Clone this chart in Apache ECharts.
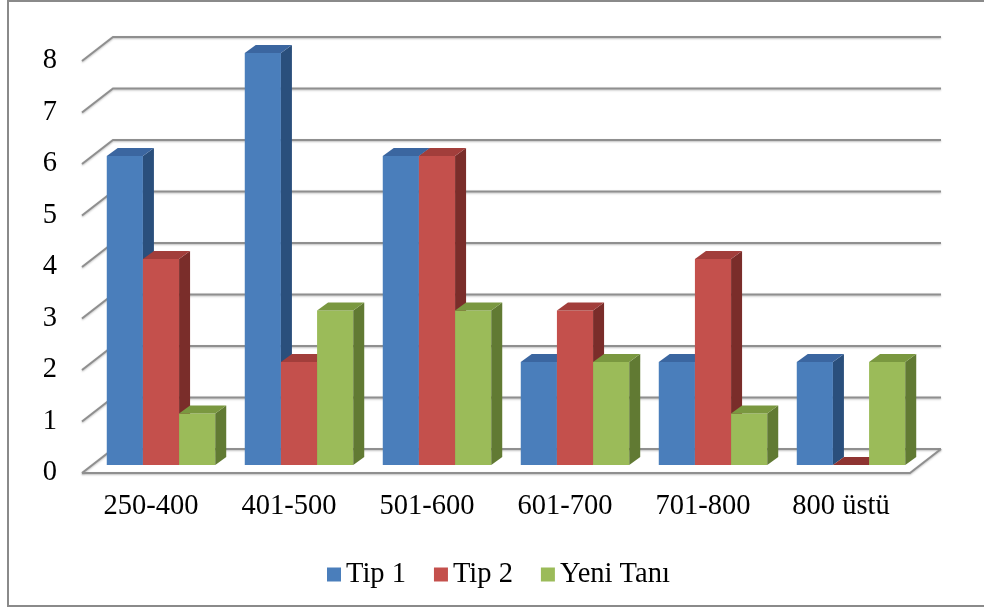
<!DOCTYPE html>
<html>
<head>
<meta charset="utf-8">
<style>
  html, body { margin: 0; padding: 0; background: #ffffff; }
  #chart { width: 984px; height: 610px; }
</style>
<script src="https://cdn.jsdelivr.net/npm/echarts@6/dist/echarts.min.js"></script>
</head>
<body>
<div id="chart"></div>
<script>
// Glucose ranges and counts per diabetes type
const categories = ['250-400', '401-500', '501-600', '601-700', '701-800', '800 üstü'];
const tip1 = [6, 8, 6, 2, 2, 2];
const tip2 = [4, 2, 6, 3, 4, 0];
const yeniTani = [1, 3, 3, 2, 1, 2];
const seriesNames = ['Tip 1', 'Tip 2', 'Yeni Tanı'];
const yTicks = [0, 1, 2, 3, 4, 5, 6, 7, 8];

// Face colours for each series: front, top, side
const palette = [
  { front: '#4a7ebb', top: '#3b66a0', side: '#2a4f7c' },
  { front: '#c4504c', top: '#a23e3b', side: '#7a2d2a' },
  { front: '#9bbb59', top: '#7a9840', side: '#617a33' }
];

// Oblique projection of depth: full floor depth and single-bar depth
const DEPTH_X = 31, DEPTH_Y = -24;
const BAR_OFF_X = 10, BAR_OFF_Y = -8;
const BAR_DX = 11, BAR_DY = -8;
const BAR_FRACTION = 0.262;

const FONT = '"Liberation Serif", "Times New Roman", serif';
const FONT_SIZE = 28.5;

const chart = echarts.init(document.getElementById('chart'));

function wallRenderer(params, api) {
  const v = api.value(1);
  const cs = params.coordSys;
  const y = api.coord([0, v])[1];
  const x0 = cs.x, x1 = cs.x + cs.width;
  const lineStyle = {
    stroke: '#8f8f8f', lineWidth: 2, fill: null,
    shadowColor: 'rgba(0,0,0,0.25)', shadowBlur: 2, shadowOffsetY: 1
  };
  const children = [{
    type: 'polyline',
    shape: { points: [[x0, y], [x0 + DEPTH_X, y + DEPTH_Y], [x1 + DEPTH_X, y + DEPTH_Y]] },
    style: lineStyle
  }];
  if (v === 0) {
    children.push({
      type: 'polyline',
      shape: { points: [[x0, y], [x1, y], [x1 + DEPTH_X, y + DEPTH_Y]] },
      style: lineStyle
    });
  }
  return { type: 'group', children: children };
}

function barRenderer(params, api) {
  const si = params.seriesIndex - 1;
  const cat = api.value(0);
  const val = api.value(1);
  const top = api.coord([cat, val]);
  const base = api.coord([cat, 0]);
  const catW = api.size([1, 0])[0];
  const w = catW * BAR_FRACTION;
  const x = top[0] - 1.5 * w + si * w + BAR_OFF_X;
  const yt = top[1] + BAR_OFF_Y;
  const yb = base[1] + BAR_OFF_Y;
  const c = palette[si];
  const children = [];
  if (yb - yt > 0.5) {
    children.push({
      type: 'rect',
      shape: { x: x, y: yt, width: w, height: yb - yt },
      style: { fill: c.front }
    });
    children.push({
      type: 'polygon',
      shape: { points: [[x + w, yt], [x + w + BAR_DX, yt + BAR_DY], [x + w + BAR_DX, yb + BAR_DY], [x + w, yb]] },
      style: { fill: c.side }
    });
  }
  children.push({
    type: 'polygon',
    shape: { points: [[x, yt], [x + w, yt], [x + w + BAR_DX, yt + BAR_DY], [x + BAR_DX, yt + BAR_DY]] },
    style: { fill: yb - yt > 0.5 ? c.top : '#8e3431' }
  });
  return { type: 'group', children: children };
}

const seriesData = [tip1, tip2, yeniTani];

const option = {
  animation: false,
  backgroundColor: '#ffffff',
  graphic: [{
    type: 'rect',
    shape: { x: 8, y: 1, width: 990, height: 605 },
    style: { fill: null, stroke: '#8a8a8a', lineWidth: 2 },
    z: -10
  }],
  grid: { left: 82, right: 74, top: 61, bottom: 137 },
  legend: {
    data: seriesNames,
    left: 322,
    top: 555,
    icon: 'rect',
    itemWidth: 14,
    itemHeight: 14,
    itemGap: 28,
    textStyle: { fontFamily: FONT, fontSize: FONT_SIZE, color: '#000000' }
  },
  xAxis: {
    type: 'category',
    data: categories,
    axisLine: { show: false },
    axisTick: { show: false },
    axisLabel: { fontFamily: FONT, fontSize: FONT_SIZE, color: '#000000', margin: 19, interval: 0 }
  },
  yAxis: {
    type: 'value',
    min: 0,
    max: 8,
    interval: 1,
    axisLine: { show: false },
    axisTick: { show: false },
    splitLine: { show: false },
    axisLabel: { fontFamily: FONT, fontSize: FONT_SIZE, color: '#000000', margin: 25 }
  },
  series: [{
    type: 'custom',
    name: 'walls',
    renderItem: wallRenderer,
    encode: { x: 0, y: 1 },
    data: yTicks.map(v => [0, v]),
    silent: true,
    z: 1
  }].concat(seriesNames.map((name, i) => ({
    type: 'custom',
    name: name,
    renderItem: barRenderer,
    encode: { x: 0, y: 1 },
    itemStyle: { color: palette[i].front },
    data: seriesData[i].map((v, ci) => [ci, v]),
    z: 2
  })))
};

chart.setOption(option);
</script>
</body>
</html>
